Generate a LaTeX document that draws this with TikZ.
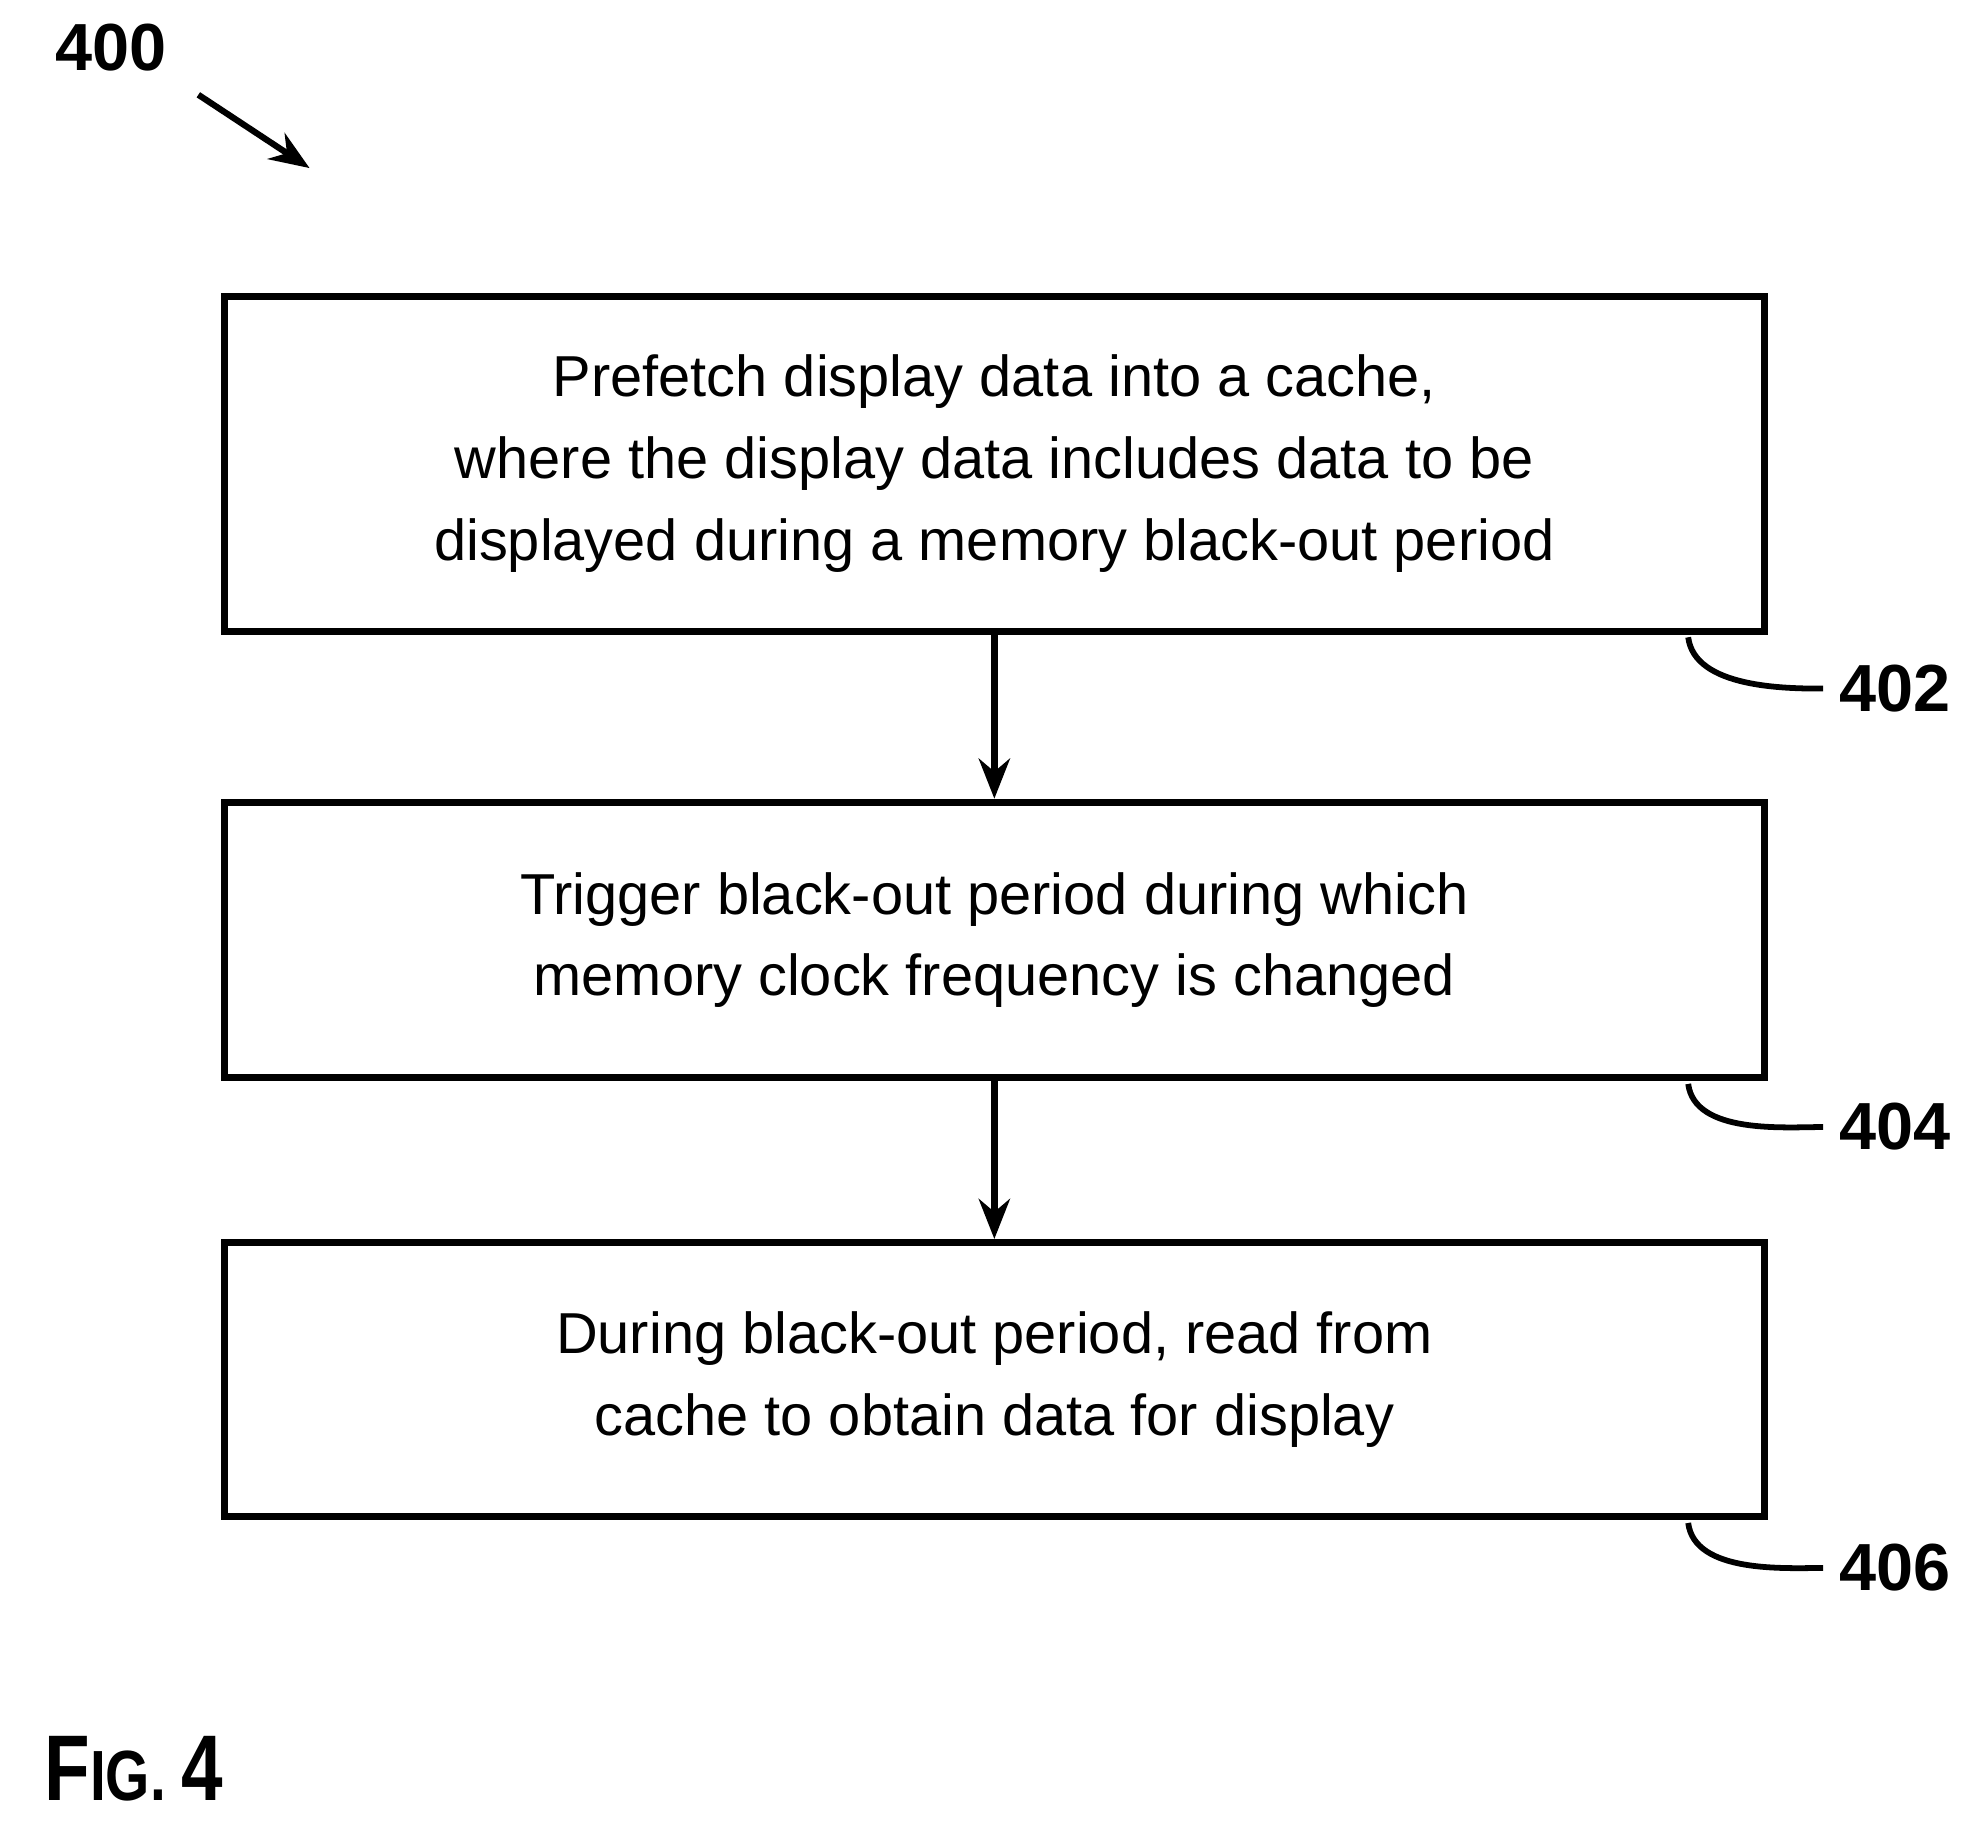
\documentclass[tikz,border=0pt]{standalone}
\usepackage{fontspec}
\setmainfont{Liberation Sans}
\usetikzlibrary{positioning, calc, arrows.meta}

\begin{document}
\begin{tikzpicture}[x=0.01cm, y=-0.01cm, >={Stealth[length=9pt, width=7pt]}, thick,
					flowbox/.style={draw, line width=1.6pt, minimum width=12.18cm, align=center,
					             font=\fontsize{13}{18.4}\selectfont},
					ref/.style={font=\fontsize{15}{18}\selectfont\bfseries},
					lead/.style={line width=1.3pt} ]
					\useasboundingbox (0,0) rectangle (1560,1444);
					\node[flowbox, minimum height=2.65cm] (S1) at (787,367) {Prefetch display data into a cache,\\where the display data includes data to be\\displayed during a memory black-out period};
					\node[flowbox, minimum height=2.18cm] (S2) at (787,744) {Trigger black-out period during which\\memory clock frequency is changed};
					\node[flowbox, minimum height=2.17cm] (S3) at (787,1092) {During black-out period, read from\\cache to obtain data for display};
					
					\node[ref]   (L400) at (88,38)    {400};
					\node[ref]   (L402) at (1500,545) {402};
					\node[ref]   (L404) at (1500,892) {404};
					\node[ref]   (L406) at (1500,1241) {406};
					\node[font=\fontsize{21}{24}\selectfont\bfseries, xscale=0.8] (FIG) at (106,1400) {F\fontsize{16}{18}\selectfont IG. \fontsize{21}{24}\selectfont 4};
					
					%Setas
					\draw[->, line width=1.5pt] (S1) -- (S2);
					\draw[->, line width=1.5pt] (S2) -- (S3);
					\draw[->, line width=1.4pt] (157,75) -- (245,133);
					
					%Linhas de referência
					\draw[lead] (S1.south east) ++(-63,2) .. controls +(5,40) and +(-30,0) .. (L402.west);
					\draw[lead] (S2.south east) ++(-63,2) .. controls +(5,40) and +(-30,0) .. (L404.west);
					\draw[lead] (S3.south east) ++(-63,2) .. controls +(5,40) and +(-30,0) .. (L406.west);
				\end{tikzpicture}
\end{document}
